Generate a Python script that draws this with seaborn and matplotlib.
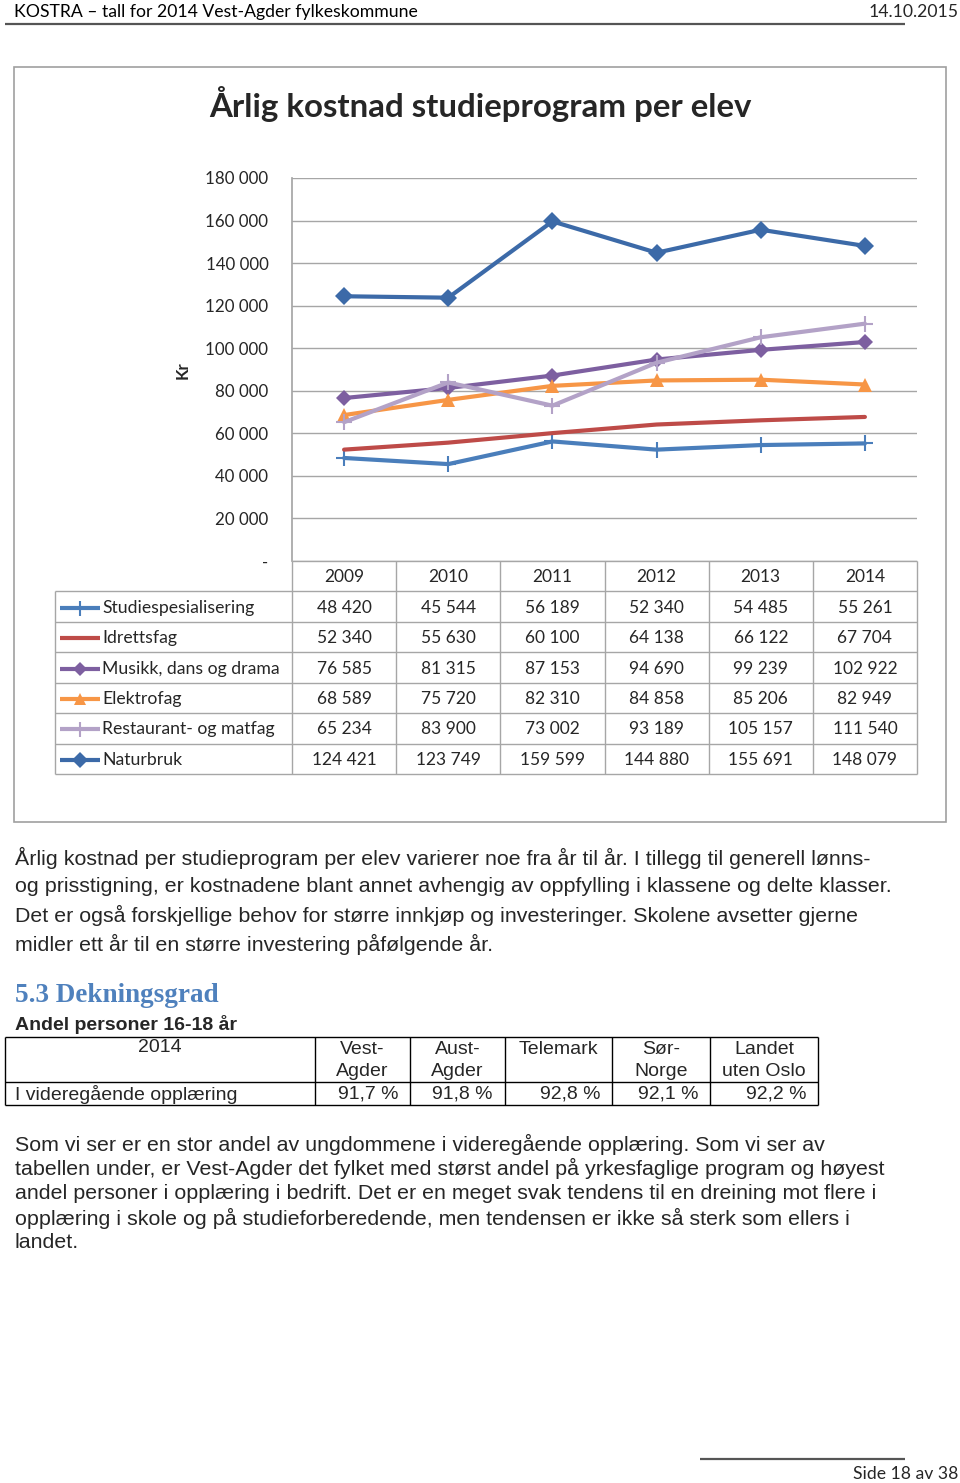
import numpy as np
import pandas as pd
import matplotlib
matplotlib.use("Agg")
import matplotlib.pyplot as plt
import seaborn as sns

# data
years = ["2009", "2010", "2011", "2012", "2013", "2014"]
series_names = ["Studiespesialisering", "Idrettsfag", "Musikk, dans og drama",
                "Elektrofag", "Restaurant- og matfag", "Naturbruk"]
studie = [48420, 45544, 56189, 52340, 54485, 55261]
idrett = [52340, 55630, 60100, 64138, 66122, 67704]
musikk = [76585, 81315, 87153, 94690, 99239, 102922]
elektro = [68589, 75720, 82310, 84858, 85206, 82949]
restaurant = [65234, 83900, 73002, 93189, 105157, 111540]
naturbruk = [124421, 123749, 159599, 144880, 155691, 148079]
values = [studie, idrett, musikk, elektro, restaurant, naturbruk]

y_ticks = [0, 20000, 40000, 60000, 80000, 100000, 120000, 140000, 160000, 180000]

regions = ["Vest-\nAgder", "Aust-\nAgder", "Telemark", "Sør-\nNorge", "Landet\nuten Oslo"]
andel = ["91,7 %", "91,8 %", "92,8 %", "92,1 %", "92,2 %"]

colors = ["#4a7ebb", "#be4b48", "#7d5fa0", "#f79646", "#b3a2c7", "#3c6aa8"]
markers = ["+", None, "D", "^", "+", "D"]
msizes = [12, 0, 8, 10, 12, 9]

W, H = 960, 1483
sns.set_theme(style="white")
plt.rcParams["font.family"] = ["Lato", "DejaVu Sans"]

fig = plt.figure(figsize=(W / 100, H / 100), dpi=100)
bg = fig.add_axes([0, 0, 1, 1])
bg.set_xlim(0, W)
bg.set_ylim(H, 0)
bg.axis("off")

def fmt(v):
    return f"{v:,}".replace(",", " ")

def hline(y, x0, x1, c="#a6a6a6", lw=1.0):
    bg.plot([x0, x1], [y, y], color=c, lw=lw, solid_capstyle="butt")

def vline(x, y0, y1, c="#a6a6a6", lw=1.0):
    bg.plot([x, x], [y0, y1], color=c, lw=lw, solid_capstyle="butt")

# page header / footer
bg.text(14, 12, "KOSTRA – tall for 2014 Vest-Agder fylkeskommune", fontsize=12.7,
        va="center", ha="left", color="#000000")
bg.text(958, 12, "14.10.2015", fontsize=12.7, va="center", ha="right")
hline(23.5, 5, 905, c="#555555", lw=1.6)
hline(1459, 700, 905, c="#555555", lw=1.6)
bg.text(958, 1474, "Side 18 av 38", fontsize=12.7, va="center", ha="right")

# chart frame
bg.add_patch(plt.Rectangle((14, 67), 932, 755, fill=False, ec="#a0a0a0", lw=1.2))
bg.text(480, 104, "Årlig kostnad studieprogram per elev", fontsize=23.8, fontweight="bold",
        ha="center", va="center")
bg.text(183, 370, "Kr", fontsize=12, fontweight="bold", rotation=90, ha="center", va="center")

# plot area
px0, px1, py0, py1 = 292, 917, 178, 561
ax = fig.add_axes([px0 / W, 1 - py1 / H, (px1 - px0) / W, (py1 - py0) / H])
xpos = np.arange(len(years))
for name, vals, c, m, ms in zip(series_names, values, colors, markers, msizes):
    sns.lineplot(x=xpos, y=vals, ax=ax, color=c, linewidth=3, marker=m, markersize=ms,
                 markeredgewidth=1.5 if m == "+" else 0, markeredgecolor=c, label=None)
ax.set_xlim(-0.5, len(years) - 0.5)
ax.set_ylim(0, 180000)
ax.set_yticks(y_ticks)
ax.set_yticklabels(["-"] + [fmt(t) for t in y_ticks[1:]], fontsize=12.2)
ax.set_xticks([])
ax.tick_params(axis="y", length=0, pad=17)
ax.grid(axis="y", color="#a6a6a6", lw=1)
ax.set_axisbelow(True)
for s in ["top", "right", "bottom"]:
    ax.spines[s].set_visible(False)
ax.spines["left"].set_color("#a6a6a6")
ax.patch.set_alpha(0)
if ax.get_legend():
    ax.get_legend().remove()

# data table under chart
col_edges = np.linspace(px0, px1, len(years) + 1)
row_edges = [561 + 30.45 * i for i in range(8)]
hline(row_edges[0], px0, px1)
for y in row_edges[1:]:
    hline(y, 55, px1)
for x in col_edges:
    vline(x, row_edges[0], row_edges[-1])
vline(55, row_edges[1], row_edges[-1])
for j, yr in enumerate(years):
    bg.text((col_edges[j] + col_edges[j + 1]) / 2, (row_edges[0] + row_edges[1]) / 2 + 1, yr,
            fontsize=12.5, ha="center", va="center")
for i, (name, vals, c, m, ms) in enumerate(zip(series_names, values, colors, markers, msizes)):
    yc = (row_edges[i + 1] + row_edges[i + 2]) / 2 + 1
    bg.plot([60, 100], [yc, yc], color=c, lw=3, solid_capstyle="butt")
    if m:
        bg.plot([80], [yc], marker=m, color=c, markersize=ms * 0.9,
                markeredgewidth=1.5 if m == "+" else 0, markeredgecolor=c)
    bg.text(102, yc, name, fontsize=12.7, ha="left", va="center")
    for j, v in enumerate(vals):
        bg.text((col_edges[j] + col_edges[j + 1]) / 2, yc, fmt(v), fontsize=12.5,
                ha="center", va="center")

# body text
body = ["Årlig kostnad per studieprogram per elev varierer noe fra år til år. I tillegg til generell lønns-",
        "og prisstigning, er kostnadene blant annet avhengig av oppfylling i klassene og delte klasser.",
        "Det er også forskjellige behov for større innkjøp og investeringer. Skolene avsetter gjerne",
        "midler ett år til en større investering påfølgende år."]
for i, line in enumerate(body):
    bg.text(15, 858 + 28.7 * i, line, fontsize=15.4, family=["Liberation Sans"], ha="left", va="center")

bg.text(15, 995, "5.3 Dekningsgrad", fontsize=19.5, fontweight="bold", family=["Liberation Serif"],
        color="#4f81bd", ha="left", va="center")
narrow = ["Liberation Sans Narrow", "Liberation Sans"]
bg.text(15, 1025, "Andel personer 16-18 år", fontsize=14, fontweight="bold", family=narrow,
        ha="left", va="center")

# second table
tx = [5, 315, 410, 505, 612, 710, 818]
ty = [1037, 1082, 1105]
for y in ty:
    hline(y, tx[0], tx[-1], c="#000000", lw=1)
for x in tx:
    vline(x, ty[0], ty[-1], c="#000000", lw=1)
bg.text((tx[0] + tx[1]) / 2, 1048, "2014", fontsize=14, family=narrow, ha="center", va="center")
for j, reg in enumerate(regions):
    xc = (tx[j + 1] + tx[j + 2]) / 2
    for k, part in enumerate(reg.split("\n")):
        bg.text(xc, 1049 + 22.5 * k, part, fontsize=14, family=narrow, ha="center", va="center")
bg.text(15, 1094, "I videregående opplæring", fontsize=14, family=narrow, ha="left", va="center")
for j, a in enumerate(andel):
    bg.text(tx[j + 2] - 12, 1094, a, fontsize=14, family=narrow, ha="right", va="center")

body2 = ["Som vi ser er en stor andel av ungdommene i videregående opplæring. Som vi ser av",
         "tabellen under, er Vest-Agder det fylket med størst andel på yrkesfaglige program og høyest",
         "andel personer i opplæring i bedrift. Det er en meget svak tendens til en dreining mot flere i",
         "opplæring i skole og på studieforberedende, men tendensen er ikke så sterk som ellers i",
         "landet."]
for i, line in enumerate(body2):
    bg.text(15, 1144 + 24.7 * i, line, fontsize=15.4, family=["Liberation Sans"], ha="left", va="center")

fig.savefig("out.png", dpi=100)
